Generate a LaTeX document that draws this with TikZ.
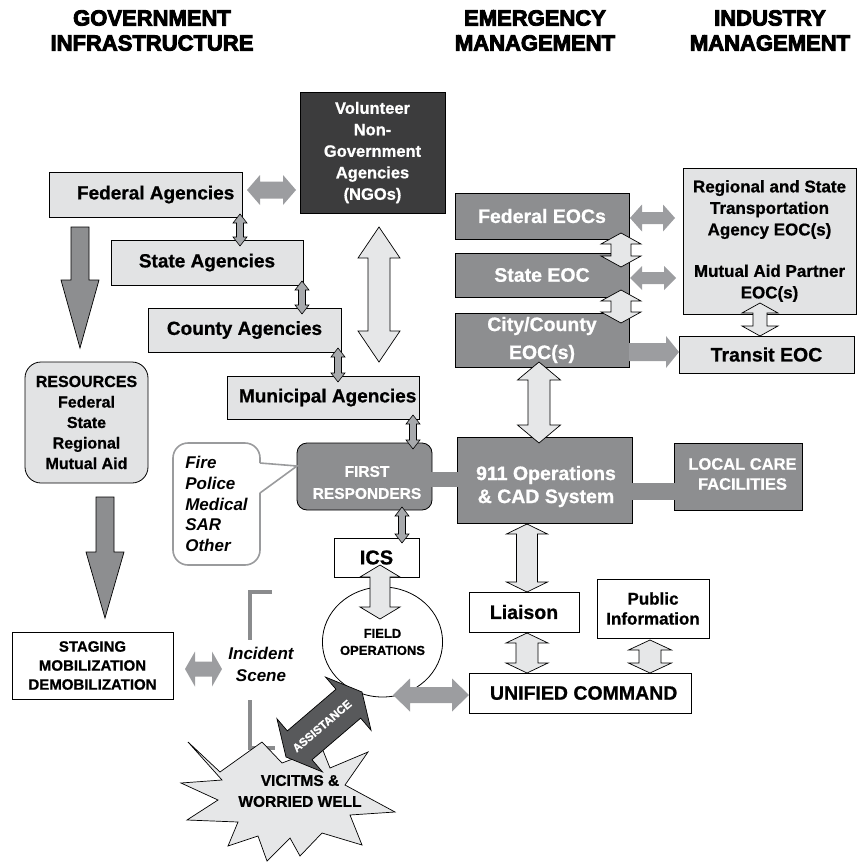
\documentclass[tikz,border=0pt]{standalone}
\usepackage{fontspec}
\setmainfont{Liberation Sans}[BoldFeatures={FakeBold=0.8}]
\newfontfamily\heavyfont{Liberation Sans}[UprightFeatures={FakeBold=4}, BoldFeatures={FakeBold=4}]
\usetikzlibrary{calc,shapes.geometric}

\definecolor{boxlight}{HTML}{E2E3E4}
\definecolor{boxmid}{HTML}{8D8E90}
\definecolor{boxdark}{HTML}{3C3C3D}
\definecolor{arrgray}{HTML}{9C9DA0}
\definecolor{arrlight}{HTML}{E6E7E8}
\definecolor{arrsmall}{HTML}{A7A9AC}
\definecolor{assistgray}{HTML}{58595B}
\definecolor{bracketgray}{HTML}{8A8B8D}
\definecolor{bubblegray}{HTML}{9A9B9D}

\newcommand\fsz[2]{\fontsize{#1}{#2}\selectfont}

% double-headed block arrow: style, end A, end B, shaft half-width, head half-width, head length
\newcommand\dblarrow[6]{%
  \coordinate (dP) at ($(#2)!#6!(#3)$);
  \coordinate (dQ) at ($(#3)!#6!(#2)$);
  \path[#1] (#2) -- ($(dP)!#5!90:(#3)$) -- ($(dP)!#4!90:(#3)$)
    -- ($(dQ)!#4!-90:(#2)$) -- ($(dQ)!#5!-90:(#2)$) -- (#3)
    -- ($(dQ)!#5!90:(#2)$) -- ($(dQ)!#4!90:(#2)$)
    -- ($(dP)!#4!-90:(#3)$) -- ($(dP)!#5!-90:(#3)$) -- cycle;}
% single-headed block arrow: style, tail, tip, shaft half-width, head half-width, head length
\newcommand\sglarrow[6]{%
  \coordinate (dQ) at ($(#3)!#6!(#2)$);
  \path[#1] ($(#2)!#4!90:(#3)$) -- ($(dQ)!#4!-90:(#2)$) -- ($(dQ)!#5!-90:(#2)$)
    -- (#3) -- ($(dQ)!#5!90:(#2)$) -- ($(dQ)!#4!90:(#2)$)
    -- ($(#2)!#4!-90:(#3)$) -- cycle;}

\tikzset{
  every node/.style={inner sep=0pt, outer sep=0pt, align=center},
  sz/.style 2 args={minimum width=#1pt, minimum height=#2pt},
  hdr/.style={font=\heavyfont\bfseries\fsz{22}{25}},
  lightbox/.style={draw=black, line width=0.8pt, fill=boxlight, font=\bfseries\fsz{19}{22}},
  midbox/.style={draw=black, line width=0.8pt, fill=boxmid, text=white, font=\bfseries\fsz{19.5}{23}},
  darkbox/.style={draw=black, line width=0.8pt, fill=boxdark, text=white, font=\bfseries\fsz{16.5}{21.5}},
  whitebox/.style={draw=black, line width=0.8pt, fill=white, font=\bfseries\fsz{19.5}{22}},
  grayarr/.style={fill=arrgray},
  bandfill/.style={fill=boxmid},
  smallarr/.style={fill=arrsmall, draw=black, line width=0.6pt},
  lightarr/.style={fill=arrlight, draw=black, line width=0.7pt},
  darkarr/.style={fill=boxmid, draw=black, line width=0.7pt},
  assistarr/.style={fill=assistgray, draw=black, line width=0.7pt},
  bubbleline/.style={draw=bubblegray, line width=1.6pt},
  bracket/.style={draw=bracketgray, line width=3.5pt},
  starshape/.style={fill=arrlight, draw=black, line width=0.7pt, line join=miter},
}

\begin{document}
\begin{tikzpicture}[x=1pt,y=-1pt]
\useasboundingbox (0,0) rectangle (857,862);

% column headings
\node[hdr] (hgov) at (152,30.5) {GOVERNMENT\\INFRASTRUCTURE};
\node[hdr] (hem) at (535,30.5) {EMERGENCY\\MANAGEMENT};
\node[hdr] (hind) at (770,30.5) {INDUSTRY\\MANAGEMENT};

% incident scene bracket
\draw[bracket] (272,592) -- (250,592) -- (250,640);
\draw[bracket] (250,700) -- (250,748) -- (275,748);

% government infrastructure
\node[lightbox, sz={193}{45}] (fed) at (145.5,194.5) {\makebox[193pt][l]{\hspace*{28pt}Federal Agencies}};
\node[lightbox, sz={192}{45}] (state) at (207,262.5) {State Agencies};
\node[lightbox, sz={193}{44}] (county) at (244.5,330) {County Agencies};
\node[lightbox, sz={192}{43}] (muni) at (323,397.5) {\makebox[192pt][l]{\hspace*{12pt}Municipal Agencies}};
\node[darkbox, sz={145}{121}] (ngo) at (372.5,152.5) {Volunteer\\Non-\\Government\\Agencies\\(NGOs)};
\node[lightbox, rounded corners=16pt, sz={123}{121}, font=\bfseries\fsz{16}{20.5}] (res) at (86.5,422.5) {RESOURCES\\Federal\\State\\Regional\\Mutual Aid};
\node[whitebox, sz={161}{67}, font=\bfseries\fsz{15}{19}] (stag) at (92.5,665.5) {STAGING\\MOBILIZATION\\DEMOBILIZATION};

% responders and field
\node[fill=white, rounded corners=15pt, bubbleline, sz={87}{122}, font=\bfseries\itshape\fsz{17}{20.8}, align=left] (roles) at (216.5,504) {Fire\\Police\\Medical\\SAR\\Other};
\node[midbox, rounded corners=10pt, sz={135}{67}] (fr) at (364.5,476.5) {};
\node[text=white, font=\bfseries\fsz{15.5}{22}] (frtext) at (367,482.5) {FIRST\\RESPONDERS};
\coordinate (ptip) at ($(fr.west)+(0,-10.5)$);
\fill[white] ($(roles.east)+(-1,-41)$) -- (ptip) -- ($(roles.east)+(-1,-11)$) -- cycle;
\draw[bubbleline, line join=miter] ($(roles.east)+(0,-41)$) -- (ptip) -- ($(roles.east)+(0,-11)$);

\node[whitebox, sz={85}{39}, font=\bfseries\fsz{20}{24}] (ics) at (376.5,557.5) {ICS};
\node[ellipse, draw=black, line width=0.8pt, fill=white, sz={101}{110}, font=\bfseries\fsz{13}{17}] (fo) at (382.5,642) {FIELD\\OPERATIONS};
\node[font=\bfseries\itshape\fsz{17}{22}] (scene) at (261,664) {Incident\\Scene};

% emergency management
\node[midbox, sz={174}{46}] (fedeoc) at (542,216) {Federal EOCs};
\node[midbox, sz={174}{44}] (steoc) at (542,275) {State EOC};
\node[midbox, sz={174}{54}, font=\bfseries\fsz{19.5}{28}] (cceoc) at (542,340) {City/County\\EOC(s)};
\node[midbox, sz={175}{86}] (e911) at (544.5,480) {};
\node[text=white, font=\bfseries\fsz{19.5}{23}] (e911text) at (546,486.5) {911 Operations\\\& CAD System};
\node[midbox, sz={128}{67}, font=\bfseries\fsz{16.5}{20}] (care) at (738,476.5) {};
\node[text=white, font=\bfseries\fsz{16.5}{20}] (caretext) at (742.5,474) {LOCAL CARE\\FACILITIES};
\node[whitebox, sz={110}{40}] (liaison) at (524,612) {Liaison};
\node[whitebox, sz={112}{59}, font=\bfseries\fsz{17}{20}] (pubinfo) at (653,608.5) {Public\\Information};
\node[whitebox, sz={222}{40}] (uc) at (580,693) {\makebox[222pt][l]{\hspace*{21pt}UNIFIED COMMAND}};

% industry management
\node[lightbox, sz={173}{146}, font=\bfseries\fsz{17}{21.5}] (reg) at (769.5,241) {Regional and State\\Transportation\\Agency EOC(s)\\[20pt]Mutual Aid Partner\\EOC(s)};
\node[lightbox, sz={175}{37}, font=\bfseries\fsz{19.5}{22}] (transit) at (766.5,354.5) {Transit EOC};

% bands joining the dispatch centre
\fill[bandfill] ($(fr.east)+(-1,-4.5)$) rectangle ($(e911.west)+(1,7)$);
\fill[bandfill] ($(e911.east)+(-1,3)$) rectangle ($(care.west)+(1,23.5)$);

% victims starburst
\draw[starshape] (188,742) -- (220,772) -- (262,742) -- (282,763) -- (322,748) -- (330,768)
  -- (368,752) -- (345,785) -- (395,812) -- (350,815) -- (362,845) -- (322,833)
  -- (300,856) -- (290,838) -- (267,861) -- (258,836) -- (228,846) -- (238,822)
  -- (187,820) -- (218,800) -- (181,783) -- (222,780) -- cycle;

% gray two-way links
\coordinate (g1a) at (247,190); \coordinate (g1b) at (296,190);
\dblarrow{grayarr}{g1a}{g1b}{8.5pt}{15pt}{13pt}
\coordinate (g2a) at (630,218); \coordinate (g2b) at (675,218);
\dblarrow{grayarr}{g2a}{g2b}{6pt}{13.5pt}{12pt}
\coordinate (g3a) at (630,278); \coordinate (g3b) at (676,278);
\dblarrow{grayarr}{g3a}{g3b}{6pt}{12pt}{12pt}
\coordinate (g4a) at (629,352); \coordinate (g4b) at (679,352);
\sglarrow{grayarr}{g4a}{g4b}{9pt}{16pt}{13pt}
\coordinate (g5a) at (185,669); \coordinate (g5b) at (222,669);
\dblarrow{grayarr}{g5a}{g5b}{7.5pt}{17.5pt}{10pt}
\coordinate (g6a) at (393,695); \coordinate (g6b) at (469,695);
\dblarrow{grayarr}{g6a}{g6b}{8pt}{16.5pt}{17pt}

% small links down the agency ladder
\coordinate (s1a) at (240,214); \coordinate (s1b) at (240,246);
\dblarrow{smallarr}{s1a}{s1b}{3.5pt}{7pt}{9pt}
\coordinate (s2a) at (302,281); \coordinate (s2b) at (302,314);
\dblarrow{smallarr}{s2a}{s2b}{3.5pt}{7pt}{9pt}
\coordinate (s3a) at (338,348); \coordinate (s3b) at (338,382);
\dblarrow{smallarr}{s3a}{s3b}{3.5pt}{7pt}{9pt}
\coordinate (s4a) at (413,415); \coordinate (s4b) at (413,449);
\dblarrow{smallarr}{s4a}{s4b}{3.5pt}{7pt}{9pt}
\coordinate (s5a) at (402,507); \coordinate (s5b) at (402,543);
\dblarrow{smallarr}{s5a}{s5b}{3.5pt}{7pt}{9pt}

% light outlined links
\coordinate (l1a) at (379,227); \coordinate (l1b) at (379,362);
\dblarrow{lightarr}{l1a}{l1b}{11pt}{21pt}{31pt}
\coordinate (l2a) at (621,233); \coordinate (l2b) at (621,267);
\dblarrow{lightarr}{l2a}{l2b}{10pt}{20pt}{11pt}
\coordinate (l3a) at (621,290); \coordinate (l3b) at (621,323);
\dblarrow{lightarr}{l3a}{l3b}{10pt}{20pt}{11pt}
\coordinate (l4a) at (760,303); \coordinate (l4b) at (760,336);
\dblarrow{lightarr}{l4a}{l4b}{7pt}{18pt}{10pt}
\coordinate (l5a) at (539,362); \coordinate (l5b) at (539,443);
\dblarrow{lightarr}{l5a}{l5b}{11pt}{21.5pt}{18pt}
\coordinate (l6a) at (527,524); \coordinate (l6b) at (527,592);
\dblarrow{lightarr}{l6a}{l6b}{10.5pt}{20.5pt}{10pt}
\coordinate (l7a) at (527,633); \coordinate (l7b) at (527,673);
\dblarrow{lightarr}{l7a}{l7b}{11pt}{21pt}{10pt}
\coordinate (l8a) at (650,640); \coordinate (l8b) at (650,673);
\dblarrow{lightarr}{l8a}{l8b}{11pt}{21.5pt}{10pt}
\coordinate (l9a) at (380,565); \coordinate (l9b) at (380,619);
\dblarrow{lightarr}{l9a}{l9b}{10pt}{20pt}{12pt}

% resource flow arrows
\coordinate (d1a) at (80,227); \coordinate (d1b) at (80,348);
\sglarrow{darkarr}{d1a}{d1b}{9pt}{19pt}{68pt}
\coordinate (d2a) at (105,497); \coordinate (d2b) at (105,618);
\sglarrow{darkarr}{d2a}{d2b}{9pt}{19pt}{66pt}

% assistance
\coordinate (asa) at (286,757); \coordinate (asb) at (362,692);
\dblarrow{assistarr}{asa}{asb}{19pt}{35pt}{18pt}
\node[rotate=40.5, text=white, font=\bfseries\fsz{11.5}{13}] (assisttext) at (322,726) {ASSISTANCE};
\node[font=\bfseries\fsz{15.5}{21}] (victims) at (300,791) {VICITMS \&\\WORRIED WELL};
\end{tikzpicture}
\end{document}
